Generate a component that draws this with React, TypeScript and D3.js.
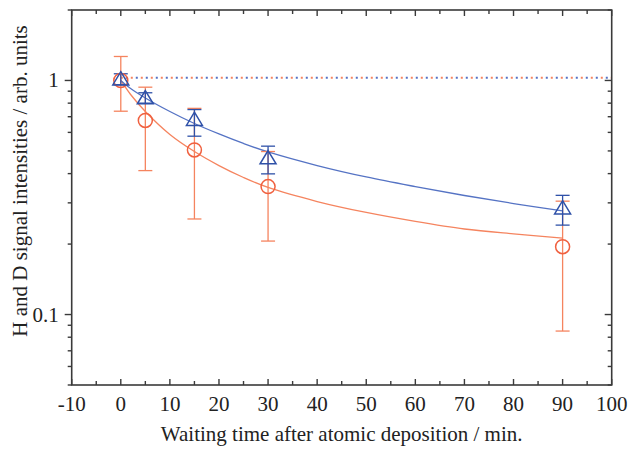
import React from "react";
import * as d3 from "d3";

// Waiting times (min) at which signals were measured
const times = [0, 5, 15, 30, 90];

// H signal (red circles) with error bounds
const hValues = [1.0, 0.675, 0.505, 0.352, 0.195];
const hLow = [0.739, 0.412, 0.256, 0.206, 0.085];
const hHigh = [1.266, 0.936, 0.76, 0.497, 0.305];

// D signal (blue triangles) with error bounds
const dValues = [1.0, 0.83, 0.671, 0.46, 0.281];
const dLow = [0.959, 0.8, 0.578, 0.399, 0.241];
const dHigh = [1.068, 0.886, 0.751, 0.524, 0.323];

// Decay fit curves, sampled (time, intensity)
const fitT = [0, 2, 5, 10, 15, 20, 25, 30, 40, 50, 60, 70, 80, 90];
const hFitV = [1.0, 0.871, 0.737, 0.588, 0.497, 0.433, 0.385, 0.349, 0.304, 0.273, 0.25, 0.232, 0.221, 0.212];
const dFitV = [1.0, 0.924, 0.842, 0.737, 0.655, 0.591, 0.538, 0.495, 0.433, 0.387, 0.352, 0.3225, 0.298, 0.277];

// Initial level reference lines
const refLevel = 1.027;
const refStart = 0;
const refEnd = 100;

// Axis ticks
const xTicks = [-10, 0, 10, 20, 30, 40, 50, 60, 70, 80, 90, 100];
const xMinorTicks = [-5, 5, 15, 25, 35, 45, 55, 65, 75, 85, 95];
const yTicks = [0.1, 1];
const yTickLabels = ["0.1", "1"];
const yMinorTicks = [0.05, 0.06, 0.07, 0.08, 0.09, 0.2, 0.3, 0.4, 0.5, 0.6, 0.7, 0.8, 0.9, 2];

const W = 630;
const H = 450;
const left = 71.7;
const right = 611.7;
const top = 10;
const bottom = 385;

const RED = "#f0603f";
const RED_LIGHT = "#f5845f";
const BLUE = "#2f51a8";
const BLUE_LIGHT = "#5573c4";
const AXIS = "#3a3a3a";
const TEXT = "#222";
const FONT = "'Liberation Serif', 'Times New Roman', serif";

export default function App() {
  const x = d3.scaleLinear().domain([-10, 100]).range([left, right]);
  const y = d3.scaleLog().domain([0.05, 2]).range([bottom, top]);

  const line = d3
    .line<[number, number]>()
    .x((d) => x(d[0]))
    .y((d) => y(d[1]))
    .curve(d3.curveCatmullRom.alpha(0.5));

  const hFit = fitT.map((t, i) => [t, hFitV[i]] as [number, number]);
  const dFit = fitT.map((t, i) => [t, dFitV[i]] as [number, number]);

  const cap = 7;
  const triW = 16;
  const triH = 13.3;
  const triPath = `M0,${-(2 * triH) / 3}L${triW / 2},${triH / 3}L${-triW / 2},${triH / 3}Z`;

  const errorBars = (low: number[], high: number[], color: string, key: string) =>
    times.map((t, i) => {
      const cx = x(t);
      const y1 = y(low[i]);
      const y2 = y(high[i]);
      return (
        <g key={`${key}${i}`} stroke={color} strokeWidth={1.3} fill="none">
          <line x1={cx} x2={cx} y1={y1} y2={y2} />
          <line x1={cx - cap} x2={cx + cap} y1={y1} y2={y1} />
          <line x1={cx - cap} x2={cx + cap} y1={y2} y2={y2} />
        </g>
      );
    });

  return (
    <svg
      width={W}
      height={H}
      style={{ position: "absolute", left: 0, top: 0, background: "#fff" }}
      fontFamily={FONT}
    >
      <rect width={W} height={H} fill="#fff" />

      {/* reference level lines, red and blue dots interleaved */}
      <line
        x1={x(refStart)}
        x2={x(refEnd)}
        y1={y(refLevel)}
        y2={y(refLevel)}
        stroke={RED_LIGHT}
        strokeWidth={1.8}
        strokeDasharray="2,8"
      />
      <line
        x1={x(refStart)}
        x2={x(refEnd)}
        y1={y(refLevel)}
        y2={y(refLevel)}
        stroke={BLUE_LIGHT}
        strokeWidth={1.8}
        strokeDasharray="2,8"
        strokeDashoffset={-5}
      />

      {/* fit curves */}
      <path d={line(hFit) ?? ""} fill="none" stroke={RED_LIGHT} strokeWidth={1.3} />
      <path d={line(dFit) ?? ""} fill="none" stroke={BLUE_LIGHT} strokeWidth={1.3} />

      {/* error bars */}
      {errorBars(hLow, hHigh, RED_LIGHT, "he")}
      {errorBars(dLow, dHigh, BLUE, "de")}

      {/* H markers */}
      {times.map((t, i) => (
        <circle
          key={`h${i}`}
          cx={x(t)}
          cy={y(hValues[i])}
          r={7}
          fill="none"
          stroke={RED}
          strokeWidth={1.5}
        />
      ))}

      {/* D markers */}
      {times.map((t, i) => (
        <path
          key={`d${i}`}
          d={triPath}
          transform={`translate(${x(t)},${y(dValues[i])})`}
          fill="none"
          stroke={BLUE}
          strokeWidth={1.5}
        />
      ))}

      {/* frame */}
      <rect
        x={left}
        y={top}
        width={right - left}
        height={bottom - top}
        fill="none"
        stroke={AXIS}
        strokeWidth={1.6}
      />

      {/* bottom and top ticks, pointing inward */}
      <g stroke={AXIS} strokeWidth={1.4}>
        {xTicks.map((t) => (
          <g key={`xt${t}`}>
            <line x1={x(t)} x2={x(t)} y1={bottom} y2={bottom - 6} />
            <line x1={x(t)} x2={x(t)} y1={top} y2={top + 6} />
          </g>
        ))}
        {xMinorTicks.map((t) => (
          <g key={`xm${t}`}>
            <line x1={x(t)} x2={x(t)} y1={bottom} y2={bottom - 4} />
            <line x1={x(t)} x2={x(t)} y1={top} y2={top + 4} />
          </g>
        ))}
        {/* left ticks outward, right ticks inward */}
        {yTicks.map((v) => (
          <g key={`yt${v}`}>
            <line x1={left} x2={left - 7} y1={y(v)} y2={y(v)} />
            <line x1={right} x2={right - 7} y1={y(v)} y2={y(v)} />
          </g>
        ))}
        {yMinorTicks.map((v) => (
          <g key={`ym${v}`}>
            <line x1={left} x2={left - 4} y1={y(v)} y2={y(v)} />
            <line x1={right} x2={right - 4} y1={y(v)} y2={y(v)} />
          </g>
        ))}
      </g>

      {/* tick labels */}
      <g fontSize={21} fill={TEXT}>
        {xTicks.map((t) => (
          <text key={`xl${t}`} x={x(t)} y={411} textAnchor="middle">
            {t}
          </text>
        ))}
        {yTicks.map((v, i) => (
          <text key={`yl${v}`} x={left - 13} y={y(v) + 7} textAnchor="end">
            {yTickLabels[i]}
          </text>
        ))}
      </g>

      {/* axis titles */}
      <text
        x={(left + right) / 2}
        y={441}
        textAnchor="middle"
        fontSize={21}
        fill={TEXT}
      >
        Waiting time after atomic deposition / min.
      </text>
      <text
        transform={`translate(27,181) rotate(-90)`}
        textAnchor="middle"
        fontSize={21}
        fill={TEXT}
      >
        H and D signal intensities / arb. units
      </text>
    </svg>
  );
}
